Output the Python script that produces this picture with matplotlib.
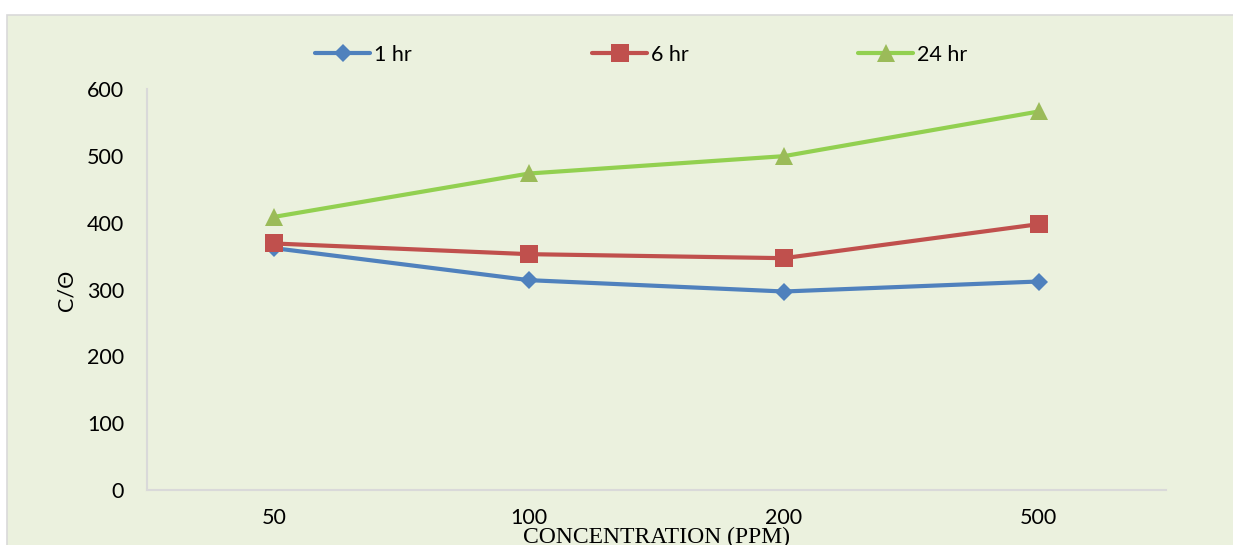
import matplotlib
matplotlib.use("Agg")
import matplotlib.pyplot as plt
from matplotlib.patches import Rectangle

# Data
categories = ["50", "100", "200", "500"]
series_names = ["1 hr", "6 hr", "24 hr"]
vals_1hr = [362, 314, 297, 312]
vals_6hr = [369, 353, 347, 398]
vals_24hr = [409, 474, 500, 567]
y_ticks = [0, 100, 200, 300, 400, 500, 600]

W, H = 1233, 545
fig = plt.figure(figsize=(W / 100, H / 100), dpi=100)
fig.patch.set_facecolor("white")

# Chart area panel
fig.patches.append(Rectangle((7 / W, -0.05), 1.1, 1 - 15 / H + 0.05,
                             transform=fig.transFigure, facecolor="#EBF1DE",
                             edgecolor="#D9D9D9", linewidth=1.2, zorder=-5))

left, right = 147 / W, 1166 / W
bottom, top = (H - 489.5) / H, (H - 89.5) / H
ax = fig.add_axes([left, bottom, right - left, top - bottom], zorder=2)
ax.set_facecolor("none")

sans = ["Lato", "DejaVu Sans"]
fs = 15.5
x = list(range(len(categories)))

styles = [
    dict(color="#4F81BD", marker="D", ms=9, mfc="#4F81BD", mec="#4F81BD"),
    dict(color="#C0504D", marker="s", ms=12.5, mfc="#C0504D", mec="#C0504D"),
    dict(color="#92D050", marker="^", ms=13, mfc="#9BBB59", mec="#9BBB59"),
]
handles = []
for vals, name, st in zip([vals_1hr, vals_6hr, vals_24hr], series_names, styles):
    ln, = ax.plot(x, vals, color=st["color"], lw=3.0, marker=st["marker"],
                  ms=st["ms"], mfc=st["mfc"], mec=st["mec"], mew=0,
                  label=name, zorder=3, solid_capstyle="round")
    handles.append(ln)

ax.set_xlim(-0.5, len(categories) - 0.5)
ax.set_ylim(0, 600)
ax.set_yticks(y_ticks)
ax.set_xticks(x)
ax.set_xticklabels(categories)
ax.tick_params(axis="both", length=0)
ax.tick_params(axis="y", pad=16.5, labelsize=fs)
ax.tick_params(axis="x", pad=13, labelsize=fs)
for lab in ax.get_yticklabels() + ax.get_xticklabels():
    lab.set_fontfamily(sans)

for s in ["top", "right"]:
    ax.spines[s].set_visible(False)
for s in ["left", "bottom"]:
    ax.spines[s].set_color("#D9D9D9")
    ax.spines[s].set_linewidth(1.5)

# Axis titles
fig.text(66 / W, (H - 290) / H, "C/Θ", rotation=90, ha="center", va="center",
         fontsize=fs, family=sans, zorder=3)
fig.text((left + right) / 2, 1.5 / H, "CONCENTRATION (PPM)", ha="center",
         va="baseline", fontsize=17, family=["Liberation Serif", "DejaVu Serif"],
         zorder=3)

# Legend entries across the top
leg_x = [315, 592, 858]
for h, lx in zip(handles, leg_x):
    leg = fig.legend(handles=[h], loc="center left",
                     bbox_to_anchor=(lx / W, (H - 55) / H),
                     frameon=False, borderpad=0, borderaxespad=0,
                     handlelength=2.56, handletextpad=0.18,
                     prop={"family": sans, "size": fs})
    leg.set_zorder(3)

fig.savefig("out.png", dpi=100, facecolor="white")
